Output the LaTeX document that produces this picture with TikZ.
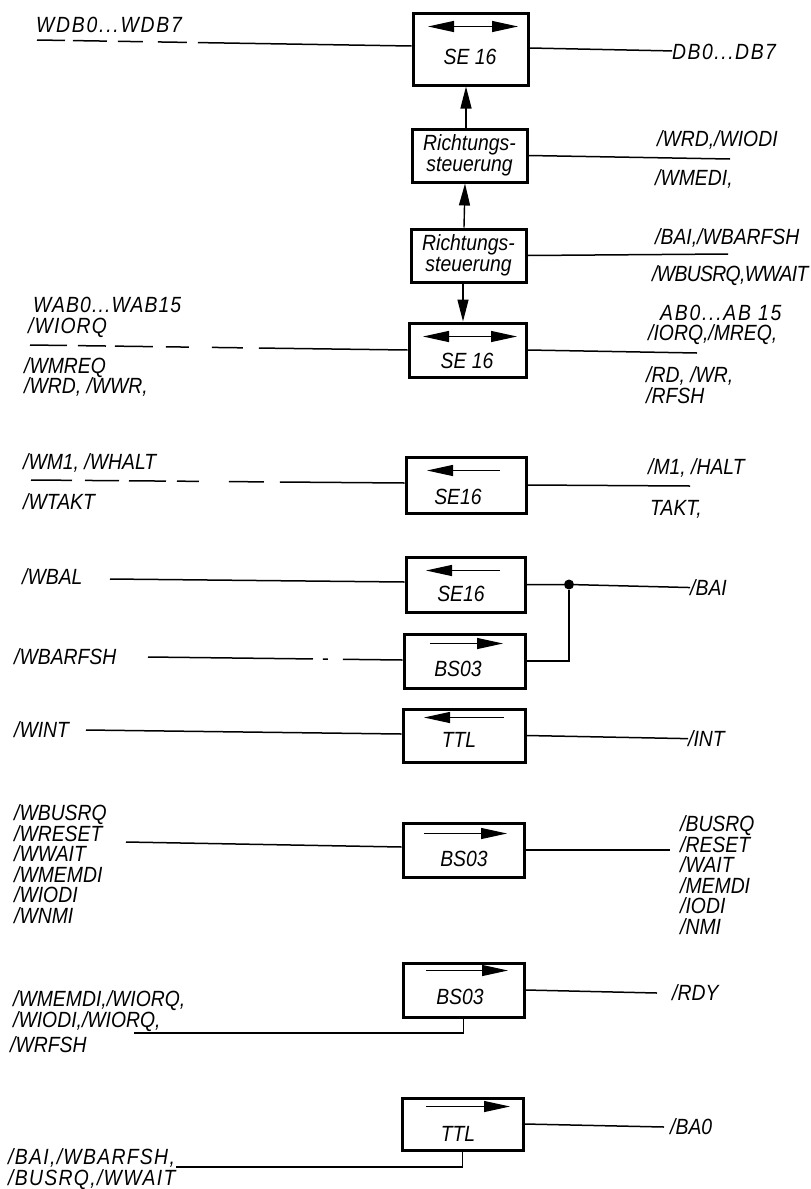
\documentclass[tikz,border=0pt]{standalone}
\usepackage{fontspec}
\setmainfont{Liberation Sans}[FakeStretch=0.88]
\usepackage{xcolor}
\usetikzlibrary{arrows.meta}

\begin{document}
\begin{tikzpicture}[
  x=1pt, y=-1pt,
  every node/.style={font=\fontsize{22}{20.5}\selectfont\itshape, inner sep=0pt},
  busbox/.style ={rectangle, draw, line width=3pt, minimum width=120pt, minimum height=54pt},
  sig/.style    ={anchor=west, align=left},
  track/.style  ={font=\fontsize{22}{20.5}\selectfont\itshape\addfontfeature{LetterSpace=#1}},
  wire/.style   ={line width=1.5pt},
  dirn/.style   ={-{Triangle[length=26pt,width=11pt]}, line width=1.2pt},
  dirnb/.style  ={{Triangle[length=26pt,width=11pt]}-{Triangle[length=26pt,width=11pt]}, line width=1.2pt},
  ctrl/.style   ={-{Triangle[length=22pt,width=11pt]}, line width=1.4pt}
]
\useasboundingbox (0,0) rectangle (811,1189);

% boxes
\node[busbox, minimum width=115pt, minimum height=72pt] (se1) at (470.5,49) {};
\node[busbox, minimum width=115pt, minimum height=53pt, align=center] (rs1) at (469.5,155.5) {Richtungs-\\steuerung};
\node[busbox, minimum width=115pt, minimum height=53pt, align=center] (rs2) at (468.5,255.5) {Richtungs-\\steuerung};
\node[busbox, minimum width=117pt] (se2) at (467.5,350) {};
\node[busbox, minimum height=56pt] (se3) at (466,485) {};
\node[busbox, minimum width=119pt, minimum height=55pt] (se4) at (465.5,584.5) {};
\node[busbox, minimum width=121pt] (bs1) at (464.5,661) {};
\node[busbox, minimum width=122pt, minimum height=53pt] (tt1) at (464,735.5) {};
\node[busbox, minimum width=121pt] (bs2) at (463.5,850) {};
\node[busbox, minimum width=121pt] (bs3) at (463.5,990) {};
\node[busbox, minimum width=121pt, minimum height=52pt] (tt2) at (462.5,1124) {};

% box names
\node (se1n) at (470,57) {SE 16};
\node (se2n) at (467,361) {SE 16};
\node (se3n) at (458,497) {SE16};
\node (se4n) at (461,594) {SE16};
\node (bs1n) at (458,669) {BS03};
\node (tt1n) at (459,740) {TTL};
\node (bs2n) at (464,859) {BS03};
\node (bs3n) at (460,997) {BS03};
\node (tt2n) at (458,1134) {TTL};

% direction arrows inside the boxes
\draw[dirnb] ([xshift=-42.5pt,yshift=-15pt]se1.north) -- ([xshift=47.5pt,yshift=-15pt]se1.north);
\draw[dirnb] ([xshift=-44.5pt,yshift=-15pt]se2.north) -- ([xshift=49.5pt,yshift=-15pt]se2.north);
\draw[dirn] ([xshift=34pt,yshift=-15pt]se3.north) -- ([xshift=-39pt,yshift=-15pt]se3.north);
\draw[dirn] ([xshift=34.5pt,yshift=-15pt]se4.north) -- ([xshift=-39.5pt,yshift=-15pt]se4.north);
\draw[dirn] ([xshift=-34.5pt,yshift=-11pt]bs1.north) -- ([xshift=38.5pt,yshift=-11pt]bs1.north);
\draw[dirn] ([xshift=40pt,yshift=-10pt]tt1.north) -- ([xshift=-40pt,yshift=-10pt]tt1.north);
\draw[dirn] ([xshift=-39.5pt,yshift=-12pt]bs2.north) -- ([xshift=43.5pt,yshift=-12pt]bs2.north);
\draw[dirn] ([xshift=-37.5pt,yshift=-9pt]bs3.north) -- ([xshift=44.5pt,yshift=-9pt]bs3.north);
\draw[dirn] ([xshift=-36.5pt,yshift=-10pt]tt2.north) -- ([xshift=47.5pt,yshift=-10pt]tt2.north);

% control arrows
\draw[ctrl] ([xshift=-3.5pt]rs1.north) -- ([xshift=-4.5pt]se1.south);
\draw[ctrl] ([xshift=-4.5pt]rs2.north) -- ([xshift=-4.5pt]rs1.south);
\draw[ctrl] ([xshift=-5.5pt]rs2.south) -- ([xshift=-4.5pt]se2.north);

% left labels
\node[sig, track=8] (wdb) at (36,25) {WDB0...WDB7};
\node[sig, track=5] (wab) at (28,317.5) {\hspace{5pt}WAB0...WAB15\\/WIORQ};
\node[sig] (wmreq) at (24,377) {/WMREQ\\/WRD, /WWR,};
\node[sig] (wm1) at (23,463) {/WM1, /WHALT};
\node[sig] (wtakt) at (23,502) {/WTAKT};
\node[sig] (wbal) at (22,577) {/WBAL};
\node[sig] (wbarfsh) at (14,657) {/WBARFSH};
\node[sig] (wint) at (14,730) {/WINT};
\node[sig] (wbusrq) at (14,864) {/WBUSRQ\\/WRESET\\/WWAIT\\/WMEMDI\\/WIODI\\/WNMI};
\node[sig] (wmemdi) at (13,1011) {/WMEMDI,/WIORQ,\\/WIODI,/WIORQ,};
\node[sig] (wrfsh) at (10,1045) {/WRFSH};
\node[sig, track=6] (bai) at (8,1169) {/BAI,/WBARFSH,\\/BUSRQ,/WWAIT};

% right labels
\node[sig, track=7] (db) at (672,52) {DB0...DB7};
\node[sig] (wrd) at (657,140) {/WRD,/WIODI};
\node[sig] (wmedi) at (655,179) {/WMEDI,};
\node[sig] (bawb) at (655,238) {/BAI,/WBARFSH};
\node[sig, track=-3] (busw) at (652,276) {/WBUSRQ,WWAIT};
\node[sig] (ab) at (648,325) {\hspace{12pt}\addfontfeature{LetterSpace=8}AB0...AB 15\\/IORQ,/MREQ,};
\node[sig] (rd) at (646,385) {/RD, /WR,\\/RFSH};
\node[sig] (m1) at (648,468) {/M1, /HALT};
\node[sig] (takt) at (650,509) {TAKT,};
\node[sig] (bain) at (690,588) {/BAI};
\node[sig] (int) at (688,739) {/INT};
\node[sig] (busrq) at (680,875) {/BUSRQ\\/RESET\\/WAIT\\/MEMDI\\/IODI\\/NMI};
\node[sig] (rdy) at (672,993) {/RDY};
\node[sig] (bao) at (670,1127) {/BA0};

% free line ends
\coordinate (wdbend) at (37,40);
\coordinate (wabend) at (30,345);
\coordinate (wm1end) at (31,480);
\coordinate (wbalend) at (110,579);
\coordinate (wbarend) at (148,657);
\coordinate (wintend) at (86,730);
\coordinate (wbusend) at (126,842);
\coordinate (wmemend) at (134,1033);
\coordinate (baiend) at (176,1167);
\coordinate (wrdend) at (730,159);
\coordinate (bawend) at (728,254);
\coordinate (abend) at (697,353);
\coordinate (m1end) at (690,486);

% lines on the left
\draw[wire, dash pattern=on 28pt off 8pt on 34pt off 11pt on 25pt off 15pt on 29pt off 11pt on 300pt] (wdbend) -- ([yshift=3pt]se1.west);
\draw[wire, dash pattern=on 37pt off 11pt on 28pt off 9pt on 38pt off 13pt on 23pt off 23pt on 31pt off 16pt on 300pt] (wabend) -- (se2.west);
\draw[wire, dash pattern=on 41pt off 13pt on 34pt off 10pt on 37pt off 11pt on 22pt off 30pt on 35pt off 16pt on 300pt] (wm1end) -- ([yshift=2pt]se3.west);
\draw[wire] (wbalend) -- ([yshift=2.5pt]se4.west);
\draw[wire, dash pattern=on 165pt off 10pt on 5pt off 15pt on 100pt] (wbarend) -- ([yshift=1pt]bs1.west);
\draw[wire] (wintend) -- ([yshift=1.5pt]tt1.west);
\draw[wire] (wbusend) -- ([yshift=3pt]bs2.west);
\draw[wire] (wmemend) -| (bs3.south);
\draw[wire] (baiend) -| (tt2.south);

% lines on the right
\draw[wire] ([yshift=1pt]se1.east) -- (db);
\draw[wire] (rs1.east) -- (wrdend);
\draw[wire] (rs2.east) -- (bawend);
\draw[wire] (se2.east) -- (abend);
\draw[wire] (se3.east) -- (m1end);
\node[circle, fill=black, minimum size=10pt] (jbai) at (569,584.5) {};
\draw[wire] (se4.east) -- (jbai) -- (bain);
\draw[wire] (bs1.east) -| (jbai);
\draw[wire] (tt1.east) -- (int);
\draw[wire] (bs2.east) -- ([xshift=-10pt]busrq.north west |- bs2.east);
\draw[wire] (bs3.east) -- ([xshift=-15pt]rdy.west);
\draw[wire] (tt2.east) -- ([xshift=-6pt]bao.west);
\end{tikzpicture}
\end{document}
